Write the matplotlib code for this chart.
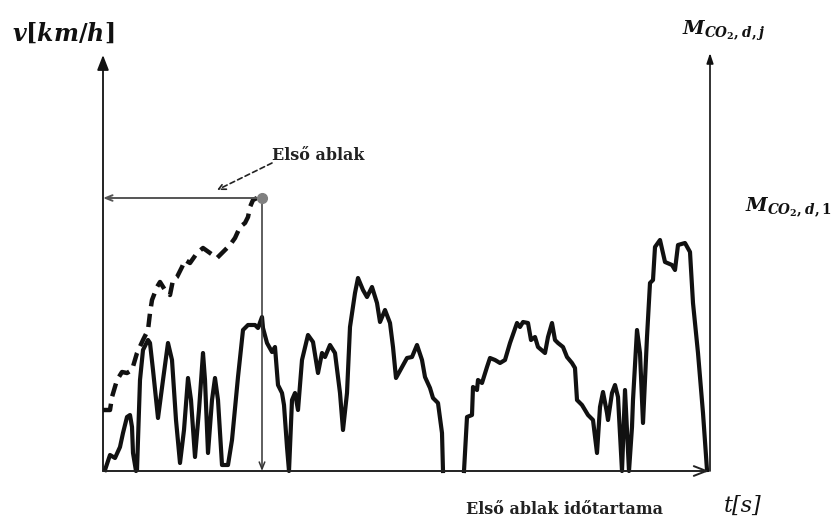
import matplotlib
matplotlib.use("Agg")
import matplotlib.pyplot as plt
import numpy as np

plt.rcParams['mathtext.fontset'] = 'custom'
plt.rcParams['mathtext.it'] = 'DejaVu Serif:italic:bold'
plt.rcParams['mathtext.rm'] = 'DejaVu Serif:bold'
plt.rcParams['mathtext.bf'] = 'DejaVu Serif:bold'

# Speed trace (time units, speed units); NaN = standstill gap
t_speed = [2, 7, 12, 17, 20, 24, 27, 29, 30, 33,
           34, 37, 40, 45, 47, 50, 55, 60, 65, 69, 73, 77, 81, 85, 88, 92, 96, 100, 102, 105,
           109, 112, 115, 119, 125, 129, 135, 140, 145, 152, 155, 159, 160, 164, 169, 172, 175,
           179, 181, 184, 186,
           189, 192, 195, 199, 205, 210, 215, 219, 222, 227, 232, 237, 240, 244, 247, 252, 255,
           260, 264, 269, 274, 277, 282, 287, 290, 293, 299, 304, 309, 314, 319, 322, 327, 330,
           335, 339, 340, np.nan,
           361, 364, 369, 370, 374, 375, 379, 384, 387, 392, 397, 402, 407, 414, 417, 420, 425,
           428, 432, 435, 442, 445, 449, 452, 455, 460, 464, 469, 472, 474, 479, 482, 485, 490,
           494, 497, 500, 504, 505, 509, 512, 515, 519, 522, 526, 529, 530, 534, 537, 540, 544,
           547, 550, 552, 557, 562, 569, 572, 575, 582, 587, 590, 595, 600, 604]
v_speed = [1, 16, 13, 24, 38, 54, 56, 44, 18, 0,
           1, 91, 121, 131, 128, 101, 53, 91, 128, 111, 51, 8, 41, 93, 71, 14, 61, 118, 91, 18,
           71, 93, 71, 6, 6, 31, 94, 141, 146, 146, 143, 154, 143, 128, 119, 124, 86,
           78, 66, 24, 0,
           71, 78, 61, 111, 136, 129, 98, 118, 114, 126, 118, 78, 41, 78, 144, 178, 193,
           181, 174, 184, 168, 149, 161, 148, 124, 93, 104, 113, 114, 126, 111, 94, 83, 73,
           68, 38, 0, np.nan,
           0, 54, 56, 84, 81, 91, 88, 104, 113, 111, 108, 111, 128, 148, 144, 149, 148,
           131, 134, 124, 118, 134, 148, 131, 128, 124, 114, 108, 103, 71, 66, 61, 56, 51,
           18, 64, 79, 58, 51, 78, 86, 74, 0, 81, 0, 44, 71, 141, 118, 48, 134,
           188, 191, 224, 231, 209, 206, 201, 226, 228, 219, 168, 118, 58, 1]

# Cumulative CO2 of the first window (dashed)
t_co2 = [0, 7, 9, 14, 19, 24, 29, 34, 40, 45, 47, 49, 54, 57, 62, 67, 70, 74, 79, 82,
         87, 94, 100, 107, 114, 120, 127, 132, 137, 142, 145, 147, 150, 154]
m_co2 = [61, 61, 74, 91, 99, 98, 101, 118, 131, 141, 158, 171, 184, 189, 181, 176, 191,
         194, 204, 211, 208, 218, 223, 218, 213, 219, 226, 233, 244, 248, 254, 264, 271, 273]

# First-window end point
t_win = 159
m_win = 273

# Axis extents
t_axis_end = 606
v_axis_top = 416
m_axis_top = 418
t_right = 607

fig = plt.figure(figsize=(8.4, 5.18), dpi=100)
ax = fig.add_axes([0, 0, 1, 1])
ax.set_xlim(-103, 737)
ax.set_ylim(-47, 471)
ax.axis('off')

# data lines
ax.plot(t_speed, v_speed, color='#111111', lw=3.0, solid_joinstyle='round', zorder=3)
ax.plot(t_co2, m_co2, color='#111111', lw=3.2, dashes=(3.0, 1.7), zorder=3)

# axes arrows
ax.annotate('', xy=(0, v_axis_top), xytext=(0, 0),
            arrowprops=dict(arrowstyle='-|>,head_length=0.9,head_width=0.35', color='#111111',
                            lw=1.3, shrinkA=0, shrinkB=0))
ax.annotate('', xy=(t_right, m_axis_top), xytext=(t_right, 0),
            arrowprops=dict(arrowstyle='-|>,head_length=0.6,head_width=0.2', color='#111111',
                            lw=1.2, shrinkA=0, shrinkB=0))
ax.annotate('', xy=(t_axis_end, 0), xytext=(0, 0),
            arrowprops=dict(arrowstyle='->,head_length=0.9,head_width=0.35', color='#222222',
                            lw=1.4, shrinkA=0, shrinkB=0))

# window lines
ax.annotate('', xy=(0, m_win), xytext=(t_win, m_win),
            arrowprops=dict(arrowstyle='->,head_length=0.5,head_width=0.2', color='#555555',
                            lw=1.4, shrinkA=0, shrinkB=0))
ax.annotate('', xy=(t_win, 0), xytext=(t_win, m_win),
            arrowprops=dict(arrowstyle='->,head_length=0.5,head_width=0.2', color='#333333',
                            lw=1.1, shrinkA=0, shrinkB=0))
ax.plot([t_win], [m_win], 'o', color='#808080', ms=7, zorder=4)

# annotation
ax.annotate('', xy=(114, 281), xytext=(169, 308),
            arrowprops=dict(arrowstyle='->,head_length=0.5,head_width=0.25', color='#222222',
                            lw=1.2, ls=(0, (3, 2)), shrinkA=0, shrinkB=0))
ax.text(215, 316, 'Első ablak', family='DejaVu Serif', weight='bold', fontsize=11.5,
        ha='center', va='center', color='#222222')

# labels
ax.text(-40, 438, r'$v[km/h]$', fontsize=17, ha='center', va='center', color='#111111')
ax.text(579, 440, r'$M_{CO_2,d,j}$', fontsize=14, ha='left', va='center', color='#111111')
ax.text(642, 264, r'$M_{CO_2,d,1}$', fontsize=14, ha='left', va='center', color='#111111')
ax.text(461, -39, 'Első ablak időtartama', family='DejaVu Serif', weight='bold', fontsize=11.5,
        ha='center', va='center', color='#222222')
ax.text(640, -35, 't[s]', family='DejaVu Serif', style='italic', fontsize=16,
        ha='center', va='center', color='#111111')

fig.savefig('out.png', dpi=100)
